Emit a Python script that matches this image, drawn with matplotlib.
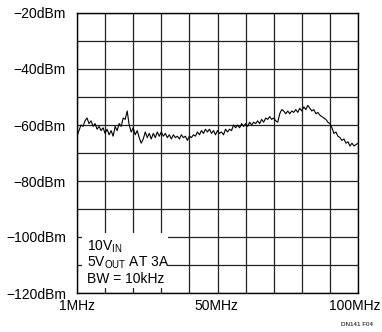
import numpy as np
import matplotlib
matplotlib.use("Agg")
import matplotlib.pyplot as plt
import matplotlib.transforms as mtransforms
from matplotlib.patches import Rectangle

plt.rcParams['font.family'] = ['Liberation Sans Narrow', 'Liberation Sans', 'DejaVu Sans']

# spectrum trace (dBm), sweep 1MHz..100MHz
level_dbm = [
    -64.0, -62.0, -60.0, -60.5, -58.5, -57.5, -59.5, -58.5, -60.5, -59.5,
    -61.5, -60.5, -62.0, -61.0, -63.0, -61.5, -63.5, -62.0, -64.0, -60.5,
    -62.0, -59.5, -60.5, -57.5, -58.0, -55.0, -60.0, -62.5, -61.0, -63.5,
    -62.0, -64.5, -66.5, -65.0, -62.5, -64.5, -63.0, -65.0, -63.0, -64.5,
    -62.5, -64.0, -62.5, -64.0, -63.0, -64.5, -63.5, -65.0, -63.5, -64.5,
    -64.0, -65.0, -63.5, -64.5, -64.0, -65.5, -64.0, -64.5, -63.5, -64.0,
    -62.5, -63.5, -62.0, -63.0, -61.5, -62.5, -61.5, -63.0, -62.0, -63.5,
    -62.0, -63.0, -62.5, -63.5, -61.5, -62.5, -61.5, -62.0, -60.0, -61.0,
    -60.0, -61.0, -59.5, -60.5, -59.5, -60.5, -59.0, -60.0, -59.0, -59.5,
    -58.5, -59.5, -58.0, -59.0, -57.5, -58.0, -57.0, -58.0, -57.5, -58.5,
    -59.0, -56.0, -54.5, -55.0, -56.0, -55.0, -56.0, -55.0, -55.5, -54.5,
    -55.5, -54.0, -55.0, -53.5, -54.5, -53.0, -54.0, -55.0, -54.5, -56.0,
    -55.5, -56.5, -57.0, -57.5, -58.0, -59.0, -59.5, -61.0, -63.0, -62.5,
    -64.0, -64.5, -65.5, -65.0, -66.5, -66.0, -67.5, -66.5, -67.5, -67.0,
    -66.5,
]
freq_mhz = np.linspace(1, 100, len(level_dbm))

y_ticks = [-20, -40, -60, -80, -100, -120]
y_labels = ["\u221220dBm", "\u221240dBm", "\u221260dBm", "\u221280dBm", "\u2212100dBm", "\u2212120dBm"]
x_ticks = [1, 50, 100]
x_labels = ["1MHz", "50MHz", "100MHz"]

fig = plt.figure(figsize=(3.82, 3.32), dpi=100)
ax = fig.add_axes([77/382, 39/332, 281/382, 280/332])

ax.set_xlim(1, 100)
ax.set_ylim(-120, -20)

# 10 x 10 graticule
for gx in np.linspace(1, 100, 11):
    ax.axvline(gx, color='#222222', lw=0.9, zorder=1)
for gy in np.linspace(-120, -20, 11):
    ax.axhline(gy, color='#222222', lw=0.9, zorder=1)

ax.plot(freq_mhz, level_dbm, color='black', lw=0.8, zorder=3)

for s in ax.spines.values():
    s.set_color('black')
    s.set_linewidth(1.0)

ax.set_yticks(y_ticks)
ax.set_yticklabels(y_labels)
ax.set_xticks(x_ticks)
ax.set_xticklabels(x_labels)
ax.tick_params(length=0, labelsize=10, pad=8)
ax.tick_params(axis='x', pad=4)

# keep "100MHz" inside the figure
last = ax.get_xticklabels()[-1]
last.set_transform(last.get_transform() +
                   mtransforms.ScaledTranslation(-3/100, 0, fig.dpi_scale_trans))

# white note box over the lower-left graticule
ax.add_patch(Rectangle((5/281, 5/280), 86/281, 55/280, transform=ax.transAxes,
                       facecolor='white', edgecolor='none', zorder=2))
ax.text(10/281, 42/280, r"10V$_{\mathregular{IN}}$", transform=ax.transAxes,
        fontsize=10, va='baseline', zorder=4)
ax.text(10/281, 26/280, r"5V$_{\mathregular{OUT}}$ AT 3A", transform=ax.transAxes,
        fontsize=10, va='baseline', zorder=4)
ax.text(10/281, 10/280, "BW = 10kHz", transform=ax.transAxes,
        fontsize=10, va='baseline', zorder=4)

fig.text(357/382, 8/332, "DN141 F04", fontsize=4.5, ha='center', va='center')

fig.savefig("out.png", dpi=100)
